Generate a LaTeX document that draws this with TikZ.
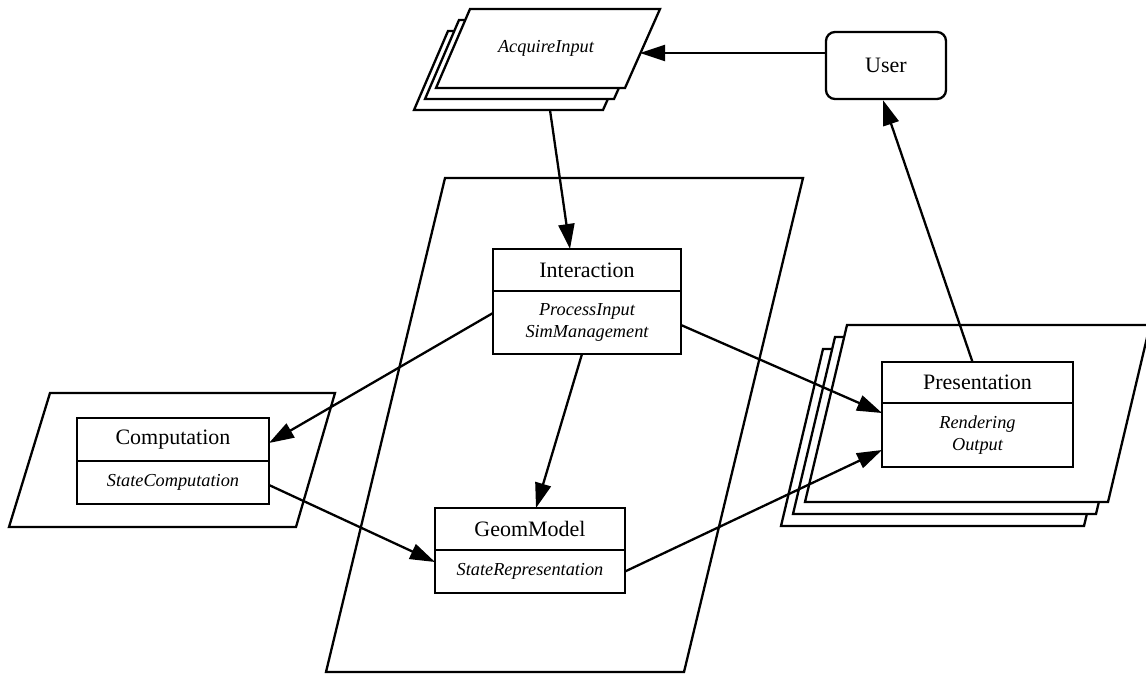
\documentclass[tikz,border=0pt]{standalone}
\usepackage{fontspec}
\setmainfont{Liberation Serif}
\usetikzlibrary{arrows.meta}
\begin{document}
\begin{tikzpicture}[x=1pt,y=-1pt,
  sheet/.style={line width=2.3pt, fill=white, line join=miter},
  frame/.style={line width=2.3pt, line join=miter},
  part/.style={draw, line width=2.3pt, inner sep=0pt, outer sep=0pt, fill=white},
  headfont/.style={font=\fontsize{22}{26}\selectfont},
  bodyfont/.style={font=\fontsize{18.3}{21.5}\selectfont\itshape, align=center},
  conn/.style={line width=2.3pt, -{Triangle[length=25pt,width=16pt]}},
]
\useasboundingbox (0,0) rectangle (1146,677);

% ---- AcquireInput: stack of three sheets ----
\foreach \d in {22,11,0}{
  \draw[sheet, shift={(-\d,\d)}] (470,9) -- (660,9) -- (625,88) -- (436,88) -- cycle;
}
\node[font=\fontsize{18.3}{22}\selectfont\itshape] (acq) at (546,48) {AcquireInput};
\coordinate (acqRight) at (640,53);
\coordinate (acqBottom) at (550,110);

% ---- User ----
\node[draw, line width=2.3pt, rounded corners=9pt, minimum width=120pt, minimum height=67pt,
      inner sep=0pt, headfont] (user) at (886,65.5) {User};

% ---- central sheet ----
\draw[frame] (445,178) -- (803,178) -- (684,672) -- (326,672) -- cycle;

% ---- Computation sheet ----
\draw[sheet] (50,393) -- (335,393) -- (296,527) -- (9,527) -- cycle;

% ---- Presentation: stack of three sheets ----
\foreach \d in {24,12,0}{
  \draw[sheet, shift={(-\d,\d)}] (847,325) -- (1150,325) -- (1108,502) -- (805,502) -- cycle;
}

% ---- class boxes ----
\node[part, headfont, minimum width=188pt, minimum height=42pt] (intH) at (587,270) {Interaction};
\node[part, bodyfont, minimum width=188pt, minimum height=63pt] (intB) at (587,322.5) {ProcessInput\\SimManagement};

\node[part, headfont, minimum width=192pt, minimum height=43pt] (compH) at (173,439.5) {Computation};
\node[part, bodyfont, minimum width=192pt, minimum height=43pt] (compB) at (173,482.5) {StateComputation};

\node[part, headfont, minimum width=190pt, minimum height=42pt] (geoH) at (530,529) {GeomModel};
\node[part, bodyfont, minimum width=190pt, minimum height=43pt] (geoB) at (530,571.5) {StateRepresentation};

\node[part, headfont, minimum width=191pt, minimum height=41pt] (presH) at (977.5,382.5) {Presentation};
\node[part, bodyfont, minimum width=191pt, minimum height=64pt] (presB) at (977.5,435) {Rendering\\Output};

% ---- connectors ----
\draw[conn] ([yshift=12.5pt]user.west) -- (acqRight);
\draw[conn] (acqBottom) -- ([xshift=-17pt]intH.north);
\draw[conn] ([xshift=-5pt]presH.north) -- ([xshift=-3pt]user.south);
\draw[conn] ([yshift=9.5pt]intB.west) -- ([yshift=-3.5pt]compH.east);
\draw[conn] ([xshift=-5pt]intB.south) -- ([xshift=6pt]geoH.north);
\draw[conn] ([yshift=-2.5pt]intB.east) -- ([yshift=22pt]presB.west);
\draw[conn] ([yshift=-2.5pt]compB.east) -- ([yshift=9.5pt]geoB.west);
\draw[conn] (geoB.east) -- ([yshift=-15pt]presB.west);
\end{tikzpicture}
\end{document}
